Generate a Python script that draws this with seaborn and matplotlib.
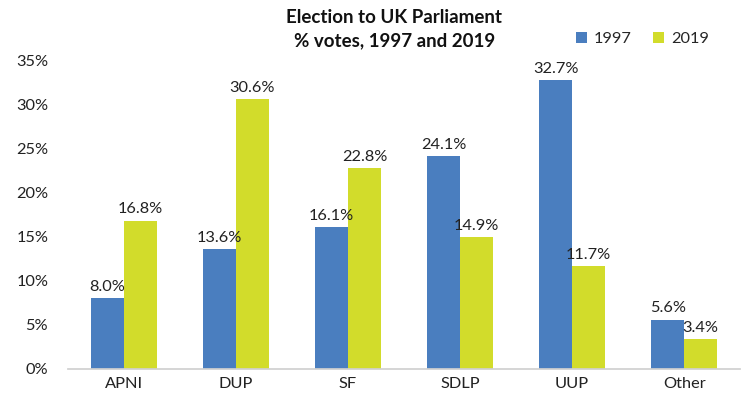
import matplotlib
matplotlib.use("Agg")
import matplotlib.pyplot as plt
import seaborn as sns
import pandas as pd

parties = ["APNI", "DUP", "SF", "SDLP", "UUP", "Other"]
votes_1997 = [8.0, 13.6, 16.1, 24.1, 32.7, 5.6]
votes_2019 = [16.8, 30.6, 22.8, 14.9, 11.7, 3.4]
years = ["1997", "2019"]
yticks = [0, 5, 10, 15, 20, 25, 30, 35]

df = pd.DataFrame({
    "party": parties * 2,
    "year": [years[0]] * len(parties) + [years[1]] * len(parties),
    "value": votes_1997 + votes_2019,
})

sns.set_theme(style="white")
plt.rcParams["font.family"] = ["Lato", "DejaVu Sans"]

fs = 11.8
fig = plt.figure(figsize=(7.44, 3.95), dpi=100)
ax = fig.add_axes([0.091, 0.066, 0.904, 0.782])
palette = {"1997": "#4A7EBF", "2019": "#D2DC2B"}
sns.barplot(data=df, x="party", y="value", hue="year", palette=palette,
            width=0.59, ax=ax, saturation=1, legend=True, linewidth=0)

for cont in ax.containers:
    ax.bar_label(cont, labels=[f"{v:.1f}%" for v in cont.datavalues],
                 padding=3, fontsize=fs, color="#222222")

ax.set_ylim(0, 35)
ax.set_yticks(yticks)
ax.set_yticklabels([f"{t}%" for t in yticks], fontsize=fs, color="#222222")
ax.tick_params(axis="x", labelsize=fs, colors="#222222", length=0, pad=6)
ax.tick_params(axis="y", length=0, pad=14)
ax.set_xlabel("")
ax.set_ylabel("")
for s in ["top", "right", "left"]:
    ax.spines[s].set_visible(False)
ax.spines["bottom"].set_color("#D0D0D0")
ax.set_xlim(-0.5, 5.5)

leg = ax.legend(loc="upper right", bbox_to_anchor=(0.975, 1.14), ncol=2, frameon=False,
                fontsize=fs, handlelength=0.7, handleheight=0.7, handletextpad=0.4,
                columnspacing=1.3)
fig.text(0.53, 0.978, "Election to UK Parliament\n% votes, 1997 and 2019",
         ha="center", va="top", fontsize=13.5, fontweight="bold", color="#111111",
         linespacing=1.45)

fig.savefig("out.png", dpi=100)
